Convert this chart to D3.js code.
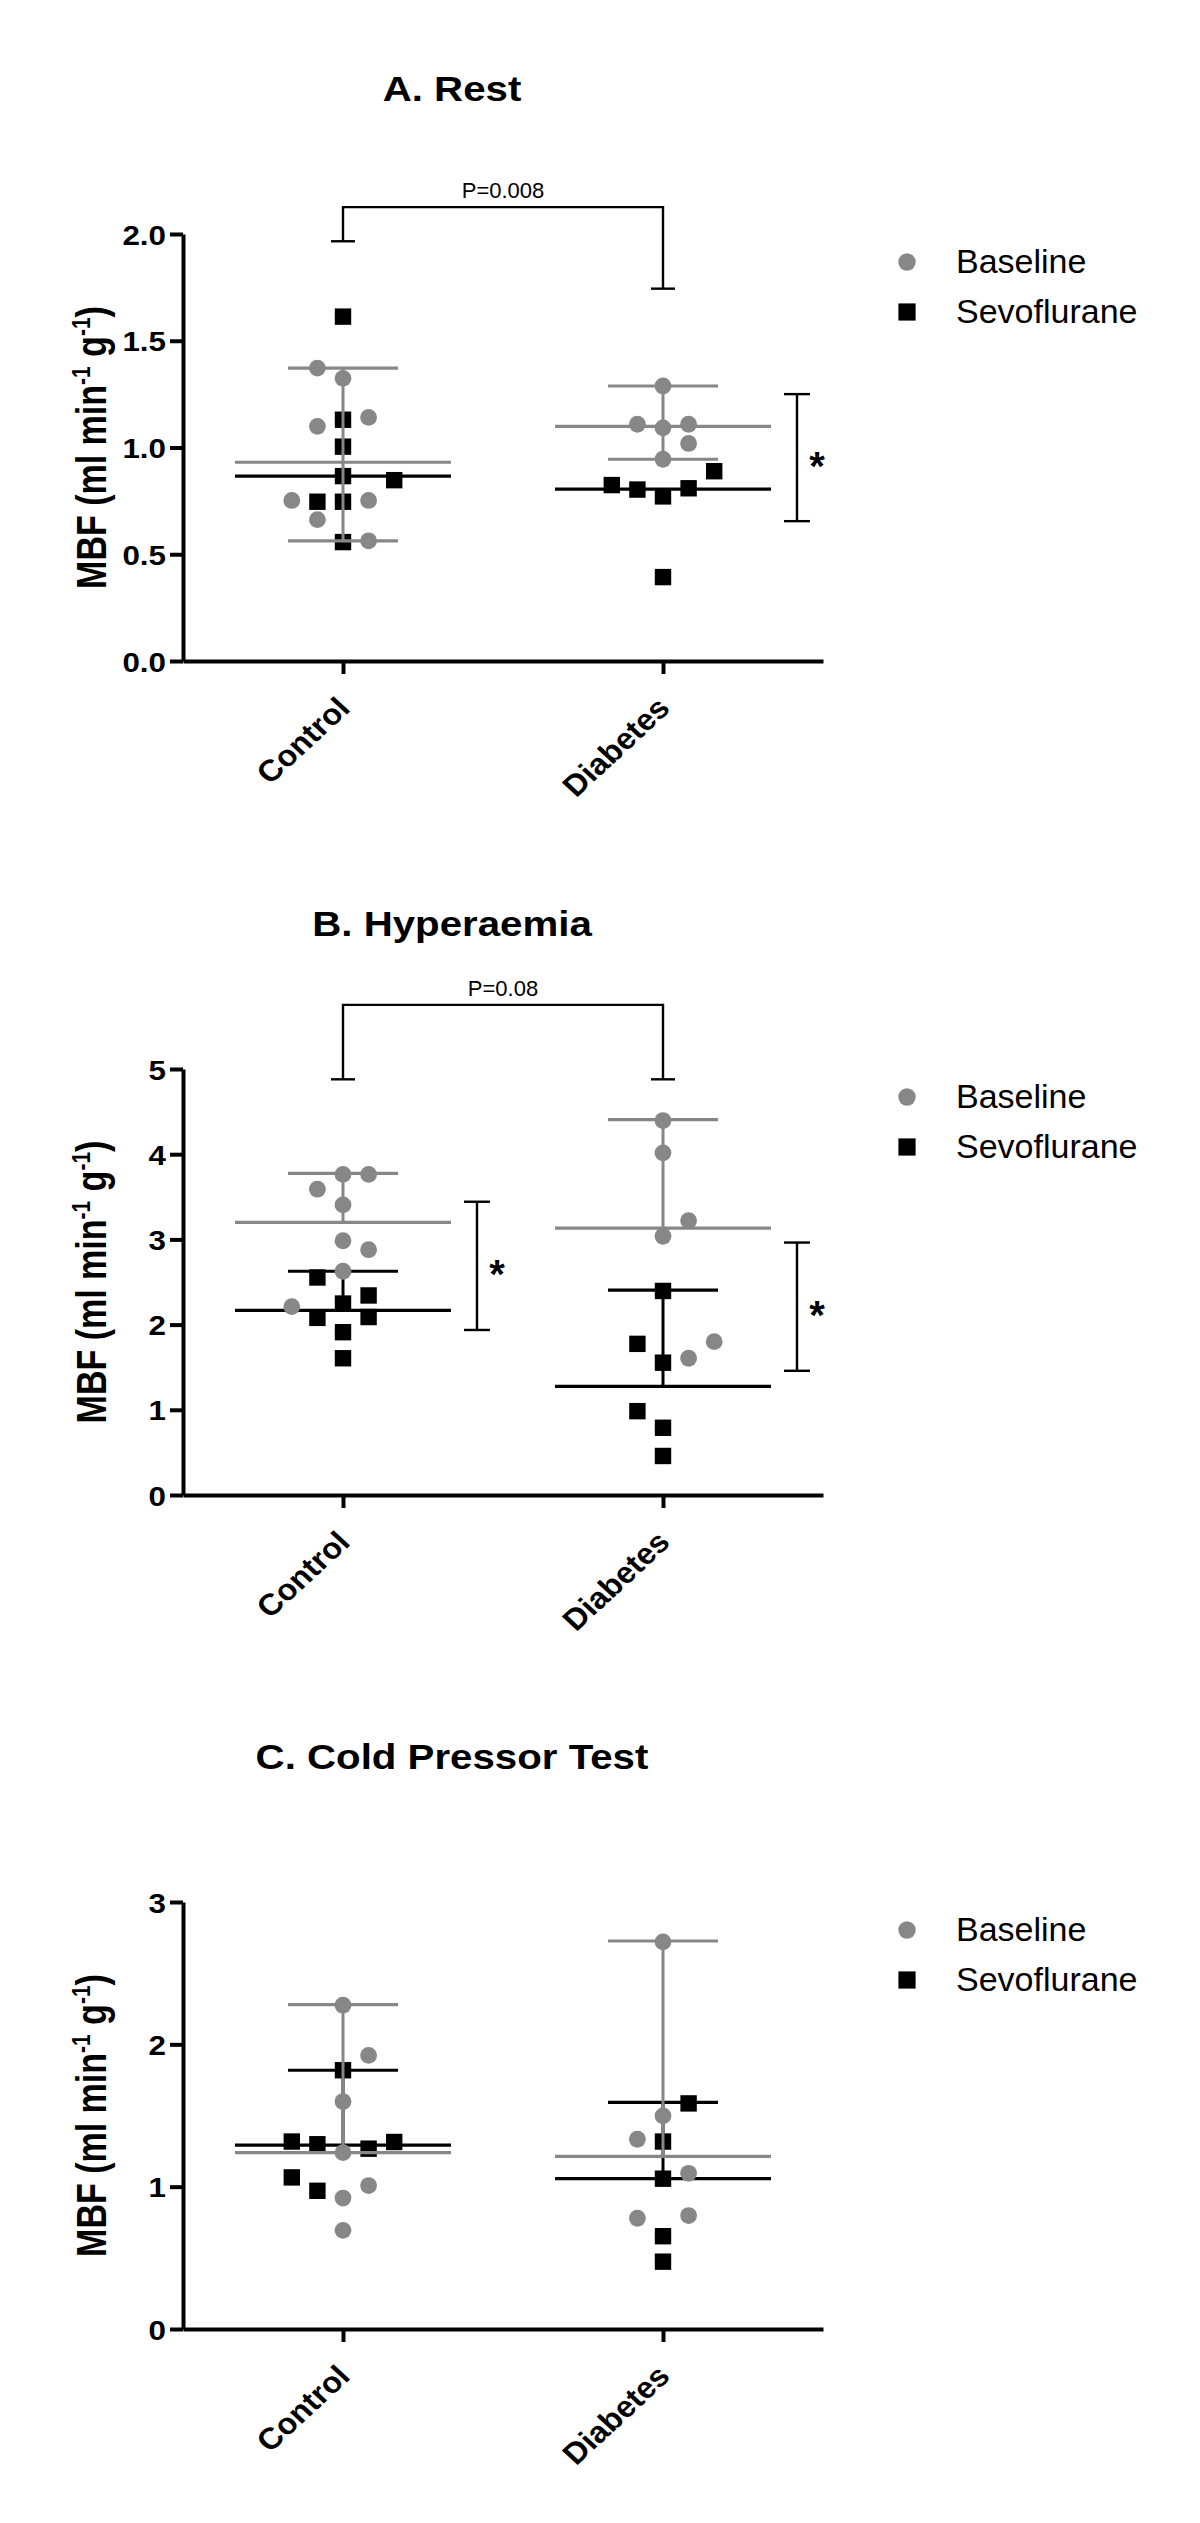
<!DOCTYPE html>
<html>
<head>
<meta charset="utf-8">
<script src="https://cdn.jsdelivr.net/npm/d3@7"></script>
<style>
  body { margin: 0; background: #fff; }
  svg text { font-family: "Liberation Sans", Arial, sans-serif; }
</style>
</head>
<body>
<div id="chart"></div>
<script>
const categories = ["Control", "Diabetes"];
const seriesNames = ["Baseline", "Sevoflurane"];

// A. Rest
const restTicks = [0, 0.5, 1, 1.5, 2];
const restBaseCtrl = [1.372, 1.324, 1.141, 1.099, 0.752, 0.752, 0.662, 0.563];
const restBaseCtrlCol = [-1, 0, 1, -1, -2, 1, -1, 1];
const restSevoCtrl = [1.613, 1.13, 1.004, 0.866, 0.847, 0.746, 0.746, 0.557];
const restSevoCtrlCol = [0, 0, 0, 0, 2, -1, 0, 0];
const restBaseDiab = [1.288, 1.109, 1.092, 1.109, 1.019, 0.945];
const restBaseDiabCol = [0, -1, 0, 1, 1, 0];
const restSevoDiab = [0.824, 0.803, 0.771, 0.809, 0.889, 0.393];
const restSevoDiabCol = [-2, -1, 0, 1, 2, 0];
const restBaseMean = [0.931, 1.099], restBaseLo = [0.563, 0.945], restBaseHi = [1.372, 1.288];
const restSevoMean = [0.866, 0.805], restSevoLo = [null, null], restSevoHi = [null, null];
const restBracket = {top: 2.126, left: 1.966, right: 1.744, label: "P=0.008"};
const restStars = [{cat: "Diabetes", lo: 0.655, hi: 1.25, at: 0.95}];

// B. Hyperaemia
const hypTicks = [0, 1, 2, 3, 4, 5];
const hypBaseCtrl = [3.763, 3.763, 3.589, 3.405, 2.984, 2.879, 2.626, 2.211];
const hypBaseCtrlCol = [0, 1, -1, 0, 0, 1, 0, -2];
const hypSevoCtrl = [2.553, 2.247, 2.342, 2.079, 2.089, 1.911, 1.605];
const hypSevoCtrlCol = [-1, 0, 1, -1, 1, 0, 0];
const hypBaseDiab = [4.395, 4.016, 3.221, 3.037, 1.605, 1.8];
const hypBaseDiabCol = [0, 0, 1, 0, 1, 2];
const hypSevoDiab = [2.395, 1.774, 1.553, 0.984, 0.789, 0.458];
const hypSevoDiabCol = [0, -1, 0, -1, 0, 0];
const hypBaseMean = [3.2, 3.132], hypBaseLo = [null, null], hypBaseHi = [3.774, 4.405];
const hypSevoMean = [2.168, 1.274], hypSevoLo = [null, null], hypSevoHi = [2.626, 2.405];
const hypBracket = {top: 5.753, left: 4.879, right: 4.879, label: "P=0.08"};
const hypStars = [
    {cat: "Control", lo: 1.937, hi: 3.442, at: 2.684},
    {cat: "Diabetes", lo: 1.458, hi: 2.963, at: 2.21}
];

// C. Cold Pressor Test
const cptTicks = [0, 1, 2, 3];
const cptBaseCtrl = [2.275, 1.922, 1.598, 1.239, 1.008, 0.92, 0.693];
const cptBaseCtrlCol = [0, 1, 0, 0, 1, 0, 0];
const cptSevoCtrl = [1.818, 1.317, 1.298, 1.267, 1.314, 1.065, 0.971];
const cptSevoCtrlCol = [0, -2, -1, 1, 2, -2, -1];
const cptBaseDiab = [2.72, 1.497, 1.333, 1.094, 0.778, 0.797];
const cptBaseDiabCol = [0, 0, -1, 1, -1, 1];
const cptSevoDiab = [1.585, 1.317, 1.056, 0.652, 0.473];
const cptSevoDiabCol = [1, 0, 0, 0, 0];
const cptBaseMean = [1.239, 1.213], cptBaseLo = [null, null], cptBaseHi = [2.279, 2.726];
const cptSevoMean = [1.292, 1.056], cptSevoLo = [null, null], cptSevoHi = [1.818, 1.592];

const panels = [
    {
        title: "A. Rest", ticks: restTicks, fmt: d3.format(".1f"), top: 234, bottom: 661,
        base: [[restBaseCtrl, restBaseCtrlCol], [restBaseDiab, restBaseDiabCol]],
        sevo: [[restSevoCtrl, restSevoCtrlCol], [restSevoDiab, restSevoDiabCol]],
        baseStats: [restBaseMean, restBaseLo, restBaseHi],
        sevoStats: [restSevoMean, restSevoLo, restSevoHi],
        bracket: restBracket, stars: restStars
    },
    {
        title: "B. Hyperaemia", ticks: hypTicks, fmt: d3.format("d"), top: 1069, bottom: 1495,
        base: [[hypBaseCtrl, hypBaseCtrlCol], [hypBaseDiab, hypBaseDiabCol]],
        sevo: [[hypSevoCtrl, hypSevoCtrlCol], [hypSevoDiab, hypSevoDiabCol]],
        baseStats: [hypBaseMean, hypBaseLo, hypBaseHi],
        sevoStats: [hypSevoMean, hypSevoLo, hypSevoHi],
        bracket: hypBracket, stars: hypStars
    },
    {
        title: "C. Cold Pressor Test", ticks: cptTicks, fmt: d3.format("d"), top: 1902, bottom: 2329,
        base: [[cptBaseCtrl, cptBaseCtrlCol], [cptBaseDiab, cptBaseDiabCol]],
        sevo: [[cptSevoCtrl, cptSevoCtrlCol], [cptSevoDiab, cptSevoDiabCol]],
        baseStats: [cptBaseMean, cptBaseLo, cptBaseHi],
        sevoStats: [cptSevoMean, cptSevoLo, cptSevoHi],
        bracket: null, stars: []
    }
];

const W = 1200, H = 2523;
const grey = "#878787";
const axisX0 = 183, axisX1 = 823;
const colStep = 25.6;

const svg = d3.select("#chart").append("svg")
    .attr("width", W)
    .attr("height", H);

function drawPanel(p) {
    let g = svg.append("g");

    let x = d3.scalePoint().domain(categories).range([axisX0, axisX1]).padding(0.5);
    let y = d3.scaleLinear().domain([0, d3.max(p.ticks)]).range([p.bottom, p.top]);

    // title
    g.append("text")
        .attr("transform", `translate(452,${p.top - 133}) scale(1.15,1)`)
        .attr("text-anchor", "middle")
        .attr("font-weight", "bold")
        .attr("font-size", 35)
        .text(p.title);

    // y axis
    let ya = g.append("g")
        .attr("transform", `translate(${axisX0},0)`)
        .call(d3.axisLeft(y).tickValues(p.ticks).tickFormat(p.fmt).tickSize(13).tickSizeOuter(0));
    ya.select(".domain").attr("stroke-width", 4);
    ya.selectAll(".tick line").attr("stroke-width", 4);
    ya.selectAll(".tick text")
        .attr("x", 0)
        .attr("dy", "0.36em")
        .attr("transform", "translate(-17,0) scale(1.12,1)")
        .attr("font-size", 28)
        .attr("font-weight", "bold")
        .attr("fill", "#000");

    // x axis
    let xa = g.append("g")
        .attr("transform", `translate(0,${p.bottom})`)
        .call(d3.axisBottom(x).tickSize(13).tickSizeOuter(0));
    xa.select(".domain").attr("stroke-width", 4);
    xa.selectAll(".tick line").attr("stroke-width", 4);
    xa.selectAll(".tick text")
        .attr("y", 0)
        .attr("dy", 0)
        .attr("text-anchor", "end")
        .attr("transform", "translate(8,49) scale(1.08,1) rotate(-45)")
        .attr("font-size", 30)
        .attr("font-weight", "bold")
        .attr("fill", "#000");

    // y axis title
    let yl = g.append("text")
        .attr("transform", `translate(106,${(p.top + p.bottom) / 2}) scale(1.25,1) rotate(-90)`)
        .attr("text-anchor", "middle")
        .attr("font-weight", "bold")
        .attr("font-size", 34);
    yl.append("tspan").text("MBF (ml min");
    yl.append("tspan").attr("dy", -13).attr("font-size", 21).text("-1");
    yl.append("tspan").attr("dy", 13).text(" g");
    yl.append("tspan").attr("dy", -13).attr("font-size", 21).text("-1");
    yl.append("tspan").attr("dy", 13).text(")");

    // mean line + bar with caps
    function drawStats(stats, color) {
        let [mean, lo, hi] = stats;
        categories.forEach((c, i) => {
            let cx = x(c);
            let top = hi[i] != null ? hi[i] : mean[i];
            let bot = lo[i] != null ? lo[i] : mean[i];
            if (top !== bot) {
                g.append("line")
                    .attr("x1", cx).attr("x2", cx)
                    .attr("y1", y(top)).attr("y2", y(bot))
                    .attr("stroke", color).attr("stroke-width", 3);
            }
            [hi[i], lo[i]].filter(v => v != null).forEach(v => {
                g.append("line")
                    .attr("x1", cx - 55).attr("x2", cx + 55)
                    .attr("y1", y(v)).attr("y2", y(v))
                    .attr("stroke", color).attr("stroke-width", 3.2);
            });
            g.append("line")
                .attr("x1", cx - 108).attr("x2", cx + 108)
                .attr("y1", y(mean[i])).attr("y2", y(mean[i]))
                .attr("stroke", color).attr("stroke-width", 3.2);
        });
    }

    // Sevoflurane squares
    p.sevo.forEach(([vals, cols], i) => {
        let cx = x(categories[i]);
        g.selectAll(null)
            .data(vals.map((v, j) => ({v: v, c: cols[j]})))
            .enter().append("rect")
            .attr("x", d => cx + d.c * colStep - 8.2)
            .attr("y", d => y(d.v) - 8.2)
            .attr("width", 16.4)
            .attr("height", 16.4)
            .attr("fill", "#000");
    });
    drawStats(p.sevoStats, "#000");

    // Baseline circles
    p.base.forEach(([vals, cols], i) => {
        let cx = x(categories[i]);
        g.selectAll(null)
            .data(vals.map((v, j) => ({v: v, c: cols[j]})))
            .enter().append("circle")
            .attr("cx", d => cx + d.c * colStep)
            .attr("cy", d => y(d.v))
            .attr("r", 8.4)
            .attr("fill", grey);
    });
    drawStats(p.baseStats, grey);

    // P value bracket
    if (p.bracket) {
        let b = p.bracket;
        let lx = x(categories[0]), rx = x(categories[1]);
        g.append("path")
            .attr("d", `M${lx},${y(b.left)}V${y(b.top)}H${rx}V${y(b.right)}`)
            .attr("fill", "none")
            .attr("stroke", "#000")
            .attr("stroke-width", 2.4);
        [[lx, b.left], [rx, b.right]].forEach(([bx, v]) => {
            g.append("line")
                .attr("x1", bx - 12).attr("x2", bx + 12)
                .attr("y1", y(v)).attr("y2", y(v))
                .attr("stroke", "#000").attr("stroke-width", 2.4);
        });
        g.append("text")
            .attr("x", (lx + rx) / 2)
            .attr("y", y(b.top) - 9)
            .attr("text-anchor", "middle")
            .attr("font-size", 22)
            .text(b.label);
    }

    // significance stars
    p.stars.forEach(s => {
        let sx = x(s.cat) + 134;
        g.append("line")
            .attr("x1", sx).attr("x2", sx)
            .attr("y1", y(s.lo)).attr("y2", y(s.hi))
            .attr("stroke", "#000").attr("stroke-width", 2.4);
        [s.lo, s.hi].forEach(v => {
            g.append("line")
                .attr("x1", sx - 13).attr("x2", sx + 13)
                .attr("y1", y(v)).attr("y2", y(v))
                .attr("stroke", "#000").attr("stroke-width", 2.4);
        });
        g.append("text")
            .attr("x", x(s.cat) + 154)
            .attr("y", y(s.at) + 22)
            .attr("text-anchor", "middle")
            .attr("font-size", 40)
            .attr("font-weight", "bold")
            .text("*");
    });

    // legend
    let ly = p.top + 28;
    let lg = g.append("g").attr("transform", `translate(907,${ly})`);
    lg.append("circle").attr("cx", 0).attr("cy", 0).attr("r", 8.7).attr("fill", grey);
    lg.append("rect").attr("x", -8.6).attr("y", 50 - 8.6).attr("width", 17.2).attr("height", 17.2).attr("fill", "#000");
    lg.selectAll(".leg-text")
        .data(seriesNames)
        .enter().append("text")
        .attr("class", "leg-text")
        .attr("x", 49)
        .attr("y", (d, i) => 11 + i * 50)
        .attr("font-size", 34)
        .text(d => d);
}

panels.forEach(drawPanel);
</script>
</body>
</html>
